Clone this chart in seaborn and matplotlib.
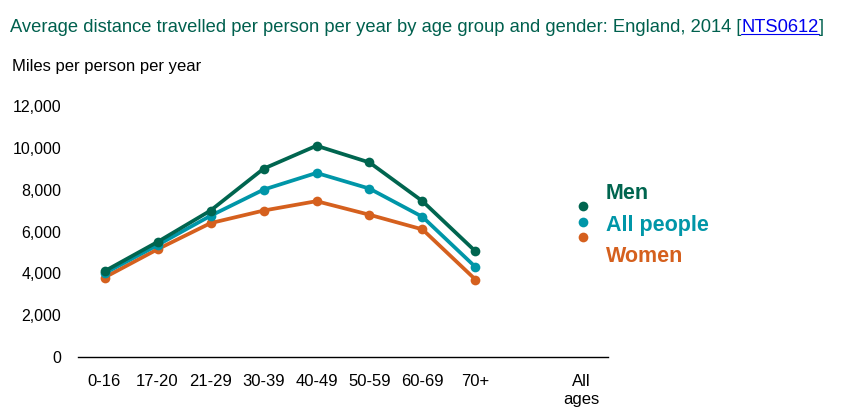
import numpy as np
import pandas as pd
import matplotlib
matplotlib.use("Agg")
import matplotlib.pyplot as plt
from matplotlib.lines import Line2D
import seaborn as sns

# ---- data ----
ages = ["0-16", "17-20", "21-29", "30-39", "40-49", "50-59", "60-69", "70+"]
extra_label = "All\nages"
men = [4100, 5500, 7000, 9000, 10100, 9300, 7450, 5050]
all_people = [4000, 5350, 6750, 8000, 8800, 8050, 6700, 4300]
women = [3800, 5150, 6400, 7000, 7450, 6800, 6100, 3700]
series_names = ["Men", "All people", "Women"]
y_ticks = [0, 2000, 4000, 6000, 8000, 10000, 12000]

colors = {"Men": "#00654F", "All people": "#0096A8", "Women": "#D5601E"}
title_color = "#00604E"

sns.set_theme(style="white")
plt.rcParams["font.family"] = ["Liberation Sans", "DejaVu Sans"]

pos = np.arange(len(ages))
df = pd.concat([
    pd.DataFrame({"pos": pos, "miles": vals, "group": name})
    for name, vals in zip(series_names, [men, all_people, women])
])

fig = plt.figure(figsize=(8.45, 4.19), dpi=100)
ax = fig.add_axes([78 / 845, 1 - 357 / 419, (608 - 78) / 845, (357 - 106) / 419])

sns.lineplot(data=df, x="pos", y="miles", hue="group", hue_order=series_names[::-1],
             palette=colors, marker="o", markersize=7, markeredgewidth=0,
             linewidth=2.7, legend=False, ax=ax)

ax.set_xlim(-0.5, len(ages) + 1.5)
ax.set_ylim(0, 12000)
tick_pos = list(pos) + [len(ages) + 1]
ax.set_xticks(tick_pos)
ax.set_xticklabels(ages + [extra_label], fontsize=12, color="black", va="top", linespacing=1.3)
ax.set_yticks(y_ticks)
ax.set_yticklabels([f"{v:,}" for v in y_ticks], fontsize=11.5, color="black")
ax.tick_params(axis="x", length=0, pad=12)
ax.tick_params(axis="y", length=0, pad=12)
ax.set_xlabel("")
ax.set_ylabel("")
for s in ["top", "right", "left"]:
    ax.spines[s].set_visible(False)
ax.spines["bottom"].set_color("black")
ax.spines["bottom"].set_linewidth(1.0)
ax.grid(False)

# ---- title with link part ----
fs_title = 13.2
ty = 1 - 27 / 419
t1 = fig.text(10 / 845, ty, "Average distance travelled per person per year by age group and gender: England, 2014 [",
              color=title_color, fontsize=fs_title, va="center", ha="left")
fig.canvas.draw()
r = fig.canvas.get_renderer()
bb = t1.get_window_extent(r)
x2 = bb.x1 / fig.bbox.width
t2 = fig.text(x2, ty, "NTS0612", color="#0000EE", fontsize=fs_title, va="center", ha="left")
bb2 = t2.get_window_extent(r)
x3 = bb2.x1 / fig.bbox.width
fig.text(x3, ty, "]", color=title_color, fontsize=fs_title, va="center", ha="left")
yl = (bb2.y0 + 1.5) / fig.bbox.height
fig.add_artist(Line2D([bb2.x0 / fig.bbox.width, x3], [yl, yl], color="#0000EE", linewidth=0.8,
                      transform=fig.transFigure))

fig.text(12 / 845, 1 - 67 / 419, "Miles per person per year", color="black", fontsize=12,
         va="center", ha="left")

# ---- legend ----
dot_y = [206, 222, 237]
lab_y = [193, 225, 257]
for name, dy, ly in zip(series_names, dot_y, lab_y):
    fig.add_artist(Line2D([583 / 845], [1 - dy / 419], marker="o", markersize=7, markeredgewidth=0,
                          color=colors[name], linestyle="none", transform=fig.transFigure))
    fig.text(606 / 845, 1 - ly / 419, name, color=colors[name], fontsize=15.5, fontweight="bold",
             va="center", ha="left")

fig.savefig("out.png", dpi=100)
